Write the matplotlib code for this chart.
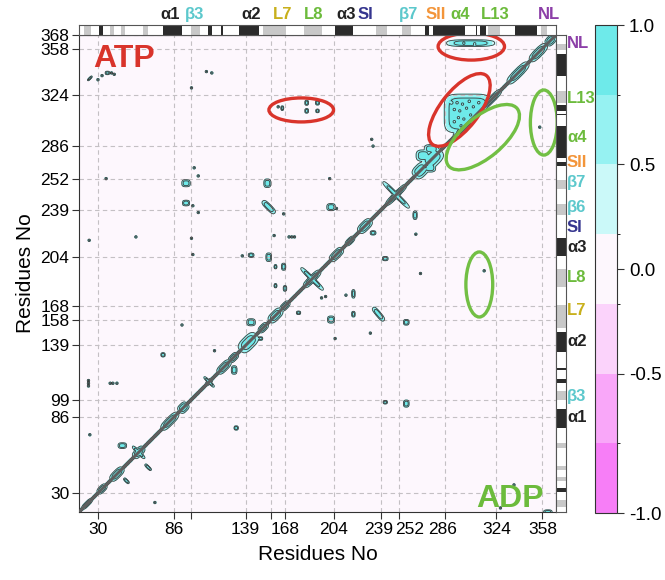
import numpy as np
import matplotlib.pyplot as plt
from matplotlib.colors import ListedColormap, BoundaryNorm
from matplotlib.patches import Ellipse, Rectangle
import matplotlib.transforms as mtrans
import matplotlib as mpl

plt.rcParams['font.family'] = ['Liberation Sans', 'DejaVu Sans']

# residue range of the map
res_min, res_max = 16, 368

# tick values (x) and y tick positions/labels as drawn in the figure
x_ticks = [30, 86, 99, 139, 158, 168, 204, 239, 252, 286, 324, 358]
x_labels = ["30", "86", "", "139", "", "168", "204", "239", "252", "286", "324", "358"]
y_ticks = [30, 86, 99, 139, 158, 168, 204, 239, 262, 286, 324, 358, 368]
y_labels = ["30", "86", "99", "139", "158", "168", "204", "239", "252", "286", "324", "358", "368"]

# correlation levels / colours of the colorbar
levels = [-1.0, -0.75, -0.5, -0.25, 0.25, 0.5, 0.75, 1.0]
level_colors = ["#f77ef7", "#f9a7f9", "#fbd3fb", "#fdf7fd", "#cbf9f9", "#96f2f2", "#6eeaea"]

# bulges along the diagonal: centre residue, half length, half width, angle
diag_res = [22, 33, 44, 60, 60, 83, 93, 112, 112, 123, 130, 141, 152, 161, 168,
            188, 188, 206, 216, 227, 250, 250, 268, 277, 300, 320, 340, 355, 364]
diag_len = [5, 4, 6, 5, 6, 8, 4, 3, 5, 6, 4, 8, 4, 6, 4,
            8, 11, 6, 4, 6, 10, 13, 6, 8, 10, 10, 10, 8, 4]
diag_wid = [1.6, 2.3, 2.8, 2.8, 1.2, 2.8, 3.2, 1.5, 1.0, 2.8, 2.4, 4.6, 2.4, 3.2, 2.3,
            2.4, 1.5, 2.8, 2.0, 3.2, 2.0, 1.6, 4.5, 5.5, 2.4, 2.2, 3.0, 3.0, 3.0]
diag_ang = [45, 45, 45, 45, -45, 45, 45, 45, -45, 45, 45, 45, 45, 45, 45,
            45, -45, 45, 45, 45, 45, -45, 45, 45, 45, 45, 45, 45, 45]

# ATP blobs (upper triangle): x, y, half sizes, angle, edge sharpness
atp_x = [303, 305, 270, 276, 184, 184, 192, 192, 166, 95, 95, 155, 156, 202,
         143, 156, 167, 161, 161, 168, 48, 78, 143, 37, 24]
atp_y = [310, 362, 279, 284, 318, 312, 318, 312, 314, 258.6, 244, 258.6, 241, 241,
         205.5, 204, 197, 197, 183, 181, 65, 132, 156, 340, 336]
atp_a = [17, 17, 5, 5, 1.3, 1.3, 1.4, 1.2, 1.0, 3, 2.5, 2.5, 6, 3,
         2, 2, 1.5, 1, 1, 1.2, 3, 1.5, 3, 1.6, 2.2]
atp_b = [14, 2.4, 4, 3, 1.8, 1.6, 1.6, 1.3, 1.6, 2.5, 2, 3, 2, 2.5,
         1.5, 3, 2.5, 1.5, 1.5, 2, 2, 1.5, 2.5, 1.2, 0.7]
atp_ang = [0, 0, 0, 0, 0, 0, 0, 0, 0, 0, 0, 0, -45, 0,
           0, 0, 0, 0, 0, 0, 0, 0, 0, 0, 45]
atp_p = [5, 3, 3, 3, 3, 3, 3, 3, 3, 3, 3, 3, 3, 3,
         3, 3, 3, 3, 3, 3, 3, 3, 3, 3, 3]

# ADP blobs (lower triangle)
adp_x = [275, 178, 202, 218.5, 218.5, 237, 257.5, 242, 257.5, 242, 233, 264, 130.5,
         132, 51, 67, 362, 150]
adp_y = [270, 163, 158, 177, 162, 162, 156, 97, 96, 203, 222, 235, 120.8,
         78, 39, 49, 16, 144]
adp_a = [4, 1.5, 2.5, 1.2, 1.2, 6, 2, 1.5, 2, 2, 2, 1.5, 2,
         1.5, 2.5, 3, 3, 1.5]
adp_b = [3, 1.2, 2.5, 3, 2, 1.8, 2, 1.2, 2.5, 1.5, 1.5, 3, 3,
         1.5, 1, 1, 1.5, 1.2]
adp_ang = [0, 0, 0, 0, 0, -50, 0, 0, 0, 0, 0, 0, 0,
           0, -45, -45, 0, 0]

# small holes inside the ATP block / stripe
hole_x = [291, 295, 299, 304, 293, 297, 302, 307, 296, 300, 305, 311, 293, 298, 300, 308]
hole_y = [318, 318, 317, 319, 313, 312, 314, 315, 307, 306, 309, 318, 304, 301, 362, 361.5]

# isolated contact dots
dot_x = [30, 33, 40, 42, 99, 110, 114, 163, 23, 23, 23, 39, 41, 44, 24, 23.5, 58, 99, 100,
         104, 100, 101, 104, 36, 136.5, 160, 167, 201, 232, 233, 92, 206, 171, 173, 175, 116,
         198, 213, 195, 205, 231, 264.6, 268, 315, 327, 337, 72, 356]
dot_y = [335, 338, 340, 339, 329, 341, 340, 315, 113, 111, 109, 111, 111, 111, 73, 216.5, 219, 218, 206,
         237, 242, 270, 264, 262, 205, 220, 236, 262, 291, 286, 154, 240, 219, 219, 219, 135,
         175, 176, 174, 144, 148, 221, 192, 194, 19, 36, 23, 300]

# secondary structure segments (H = helix, E = strand)
sse_start = [20, 31, 39, 47, 63, 78, 99, 111, 121, 134, 152, 182, 205, 235, 254, 271, 277, 309, 312, 318, 338, 357]
sse_end = [25, 34, 42, 50, 67, 92, 105, 114, 122, 149, 169, 195, 218, 243, 261, 274, 301, 310, 316, 327, 354, 361]
sse_kind = ["E", "H", "E", "E", "E", "H", "E", "H", "H", "H", "E", "E", "H", "E", "E", "H", "H", "H", "H", "E", "H", "E"]

top_names = ["α1", "β3", "α2", "L7", "L8", "α3", "SI", "β7", "SII", "α4", "L13", "NL"]
top_pos = [83, 101, 143, 166, 189, 213, 227, 259, 279, 297, 323, 363]
right_names = ["NL", "L13", "α4", "SII", "β7", "β6", "SI", "α3", "L8", "L7", "α2", "β3", "α1"]
right_pos = [362, 321, 292, 274, 259, 241, 226, 211, 189, 165, 142, 101, 86]
name_color = {"α1": "#222222", "α2": "#222222", "α3": "#222222", "β3": "#5cc8cc", "β6": "#5cc8cc",
              "β7": "#5cc8cc", "L7": "#c8b01c", "L8": "#6cbb3c", "α4": "#6cbb3c", "L13": "#6cbb3c",
              "SI": "#35358f", "SII": "#f3953a", "NL": "#8c3fa8"}

# highlighted regions: centre x, centre y, width, height, angle, colour
ell_x = [180, 305.5, 296.7, 314, 359, 311.4]
ell_y = [312.7, 359.5, 312.7, 292.6, 303.4, 183.9]
ell_w = [47.7, 49, 64.5, 66, 19.8, 19.8]
ell_h = [17.7, 20, 28, 30, 48, 48]
ell_ang = [0, 0, 52, 40, 0, 0]
ell_col = ["#d9342b", "#d9342b", "#d9342b", "#72bf44", "#72bf44", "#72bf44"]


def blob(X, Y, cx, cy, a, b, ang, p=3):
    t = np.deg2rad(ang)
    u = (X - cx) * np.cos(t) + (Y - cy) * np.sin(t)
    v = -(X - cx) * np.sin(t) + (Y - cy) * np.cos(t)
    s = np.abs(u / a) ** p + np.abs(v / b) ** p
    return np.exp(-s ** 1.5)


r = np.arange(res_min, res_max + 0.01, 0.5)
X, Y = np.meshgrid(r, r)

z_atp = np.zeros_like(X)
for i in range(len(atp_x)):
    z_atp = np.maximum(z_atp, blob(X, Y, atp_x[i], atp_y[i], atp_a[i], atp_b[i], atp_ang[i], atp_p[i]))
z_adp = np.zeros_like(X)
for i in range(len(adp_x)):
    z_adp = np.maximum(z_adp, blob(X, Y, adp_x[i], adp_y[i], adp_a[i], adp_b[i], adp_ang[i]))
for i in range(len(dot_x)):
    d = 0.9 * blob(X, Y, dot_x[i], dot_y[i], 0.9, 0.9, 0, 2)
    if dot_y[i] > dot_x[i]:
        z_atp = np.maximum(z_atp, d)
    else:
        z_adp = np.maximum(z_adp, d)
for i in range(len(hole_x)):
    z_atp = z_atp - 0.42 * blob(X, Y, hole_x[i], hole_y[i], 1.0, 1.0, 0, 2)

Z = np.where(Y >= X, z_atp, z_adp)
Z = np.maximum(Z, np.exp(-((X - Y) / 1.3) ** 2))
for i in range(len(diag_res)):
    Z = np.maximum(Z, blob(X, Y, diag_res[i], diag_res[i], diag_len[i], diag_wid[i], diag_ang[i]))
Z = np.clip(Z, -1, 1)

cmap = ListedColormap(level_colors)
norm = BoundaryNorm(levels, cmap.N)

fig = plt.figure(figsize=(6.65, 5.8), dpi=100)
ax = fig.add_axes([79 / 665, 68 / 580, 477 / 665, 477 / 580])
ax.contourf(X, Y, Z, levels=levels, cmap=cmap, norm=norm, zorder=0)
ax.contour(X, Y, Z, levels=[0.3, 0.8], colors="#3d3d3d", linewidths=0.6, zorder=2)
ax.plot(r, r, color="#5e5e5e", lw=2.2, zorder=3)

ax.set_xlim(res_min, res_max)
ax.set_ylim(res_min, res_max)
ax.set_xticks(x_ticks)
ax.set_xticklabels(x_labels)
ax.set_yticks(y_ticks)
ax.set_yticklabels(y_labels)
ax.tick_params(labelsize=12.5, length=5, color="#333333", pad=2)
ax.grid(True, color="#c4c0c4", linestyle=(0, (4, 3)), lw=0.8)
for s in ax.spines.values():
    s.set_color("#333333")
ax.set_xlabel("Residues No", fontsize=15, labelpad=6)
ax.set_ylabel("Residues No", fontsize=15, labelpad=4)

# crowded x labels are nudged sideways as in the original figure (pixels)
x_shift = [0, 0, 0, 0, 0, 0, 0, -3, 11, -2, 0, 0]
for lab, dx in zip(ax.get_xticklabels(), x_shift):
    lab.set_transform(lab.get_transform() + mtrans.ScaledTranslation(dx / 100, 0, fig.dpi_scale_trans))

for i in range(len(ell_x)):
    ax.add_patch(Ellipse((ell_x[i], ell_y[i]), ell_w[i], ell_h[i], angle=ell_ang[i],
                         fill=False, edgecolor=ell_col[i], lw=2.4, zorder=5))

ax.text(0.029, 0.933, "ATP", transform=ax.transAxes, color="#d9342b",
        fontsize=23, fontweight="bold", va="baseline", zorder=6)
ax.text(0.832, 0.011, "ADP", transform=ax.transAxes, color="#6cbb3c",
        fontsize=23, fontweight="bold", va="baseline", zorder=6)

# secondary structure strips
sse_col = {"H": "#2b2b2b", "E": "#c8c8c8"}
ax_top = fig.add_axes([79 / 665, 545 / 580, 477 / 665, 10 / 580])
ax_top.set_xlim(res_min, res_max)
ax_top.set_ylim(0, 1)
ax_right = fig.add_axes([556 / 665, 68 / 580, 10 / 665, 477 / 580])
ax_right.set_ylim(res_min, res_max)
ax_right.set_xlim(0, 1)
for i in range(len(sse_start)):
    w = sse_end[i] - sse_start[i]
    ax_top.add_patch(Rectangle((sse_start[i], 0), w, 1, color=sse_col[sse_kind[i]], lw=0))
    ax_right.add_patch(Rectangle((0, sse_start[i]), 1, w, color=sse_col[sse_kind[i]], lw=0))
for a_ in (ax_top, ax_right):
    a_.set_xticks([])
    a_.set_yticks([])
    for s in a_.spines.values():
        s.set_color("#555555")
        s.set_linewidth(0.8)

for name, p in zip(top_names, top_pos):
    ax_top.text(p, 1.3, name, ha="center", va="bottom", fontsize=12, fontweight="bold",
                color=name_color[name], transform=ax_top.get_xaxis_transform())
for name, p in zip(right_names, right_pos):
    ax_right.text(1.1, p, name, ha="left", va="center", fontsize=12, fontweight="bold",
                  color=name_color[name], transform=ax_right.get_yaxis_transform())

# colorbar
cax = fig.add_axes([595 / 665, 67 / 580, 22 / 665, 488 / 580])
cb = mpl.colorbar.ColorbarBase(cax, cmap=cmap, norm=norm, boundaries=levels, ticks=[-1, -0.5, 0, 0.5, 1])
cb.ax.set_yticklabels(["-1.0", "-0.5", "0.0", "0.5", "1.0"])
cb.ax.tick_params(labelsize=13.5, length=5, color="#333333")
cb.outline.set_edgecolor("#333333")

fig.savefig("out.png", dpi=100)
